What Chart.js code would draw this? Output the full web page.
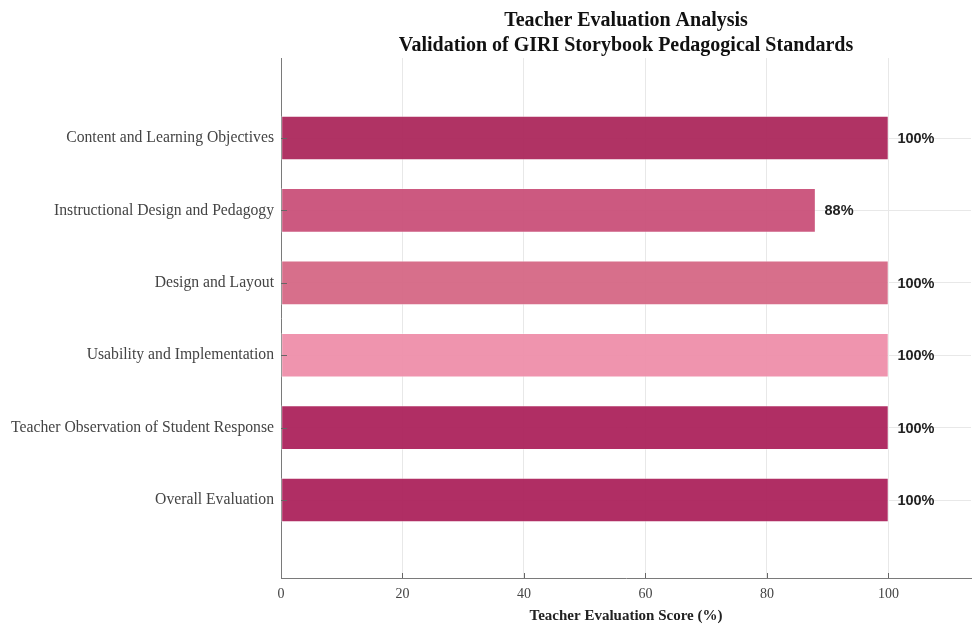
<!DOCTYPE html>
<html>
<head>
<meta charset="utf-8">
<script src="https://cdn.jsdelivr.net/npm/chart.js@4"></script>
<style>
html,body{margin:0;padding:0;background:#fff;}
#wrap{width:972px;height:625px;}
</style>
</head>
<body>
<div id="wrap"><canvas id="c" width="972" height="625"></canvas></div>
<script>
const categories = [
  "Content and Learning Objectives",
  "Instructional Design and Pedagogy",
  "Design and Layout",
  "Usability and Implementation",
  "Teacher Observation of Student Response",
  "Overall Evaluation"
];
const scores = [100, 88, 100, 100, 100, 100];
const barColors = [
  "rgba(170,36,88,0.93)",
  "rgba(200,76,118,0.93)",
  "rgba(212,100,130,0.93)",
  "rgba(238,140,168,0.93)",
  "rgba(170,30,88,0.93)",
  "rgba(170,30,88,0.93)"
];
const xTicks = [0, 20, 40, 60, 80, 100];
const titleLines = ["Teacher Evaluation Analysis", "Validation of GIRI Storybook Pedagogical Standards"];
const xTitle = "Teacher Evaluation Score (%)";

const serif = "'Liberation Serif', 'DejaVu Serif', serif";
const sans = "'Liberation Sans', Arial, sans-serif";

const overlay = {
  id: 'overlay',
  afterDatasetsDraw(chart) {
    const ctx = chart.ctx;
    const xs = chart.scales.x, ys = chart.scales.y;
    const area = chart.chartArea;
    ctx.save();
    ctx.strokeStyle = '#666';
    ctx.lineWidth = 1;
    xTicks.forEach(v => {
      if (v === 0) return;
      const px = Math.round(xs.getPixelForValue(v)) + 0.5;
      ctx.beginPath();
      ctx.moveTo(px, area.bottom);
      ctx.lineTo(px, area.bottom - 5);
      ctx.stroke();
    });
    categories.forEach((c, i) => {
      const py = Math.round(ys.getPixelForValue(i)) + 0.5;
      ctx.beginPath();
      ctx.moveTo(area.left, py);
      ctx.lineTo(area.left + 6, py);
      ctx.stroke();
    });
    ctx.fillStyle = '#222';
    ctx.font = "bold 14.5px " + sans;
    ctx.textAlign = 'left';
    ctx.textBaseline = 'middle';
    scores.forEach((v, i) => {
      const px = xs.getPixelForValue(v) + 9;
      const py = ys.getPixelForValue(i) + 1;
      ctx.fillText(v + '%', px, py);
    });
    ctx.restore();
  }
};

new Chart(document.getElementById('c'), {
  type: 'bar',
  data: {
    datasets: [{
      data: scores.map((v, i) => ({x: v, y: i})),
      backgroundColor: barColors,
      borderColor: 'rgba(255,255,255,0.35)',
      borderWidth: 1,
      borderSkipped: false,
      barThickness: 44
    }]
  },
  options: {
    indexAxis: 'y',
    responsive: false,
    animation: false,
    devicePixelRatio: 1,
    layout: {padding: {left: 0, right: 1, top: 0, bottom: 0}},
    plugins: {
      legend: {display: false},
      tooltip: {enabled: false},
      title: {
        display: true,
        fullSize: false,
        text: titleLines,
        color: '#111',
        font: {family: serif, size: 20, weight: 'bold', lineHeight: 1.25},
        padding: {top: 8, bottom: 0}
      }
    },
    scales: {
      x: {
        type: 'linear',
        min: 0,
        max: 113.6,
        afterBuildTicks: axis => { axis.ticks = xTicks.map(v => ({value: v})); },
        afterFit: scale => { scale.height = 47; },
        grid: {color: '#e8e8e8', drawTicks: false},
        border: {color: '#7a7a7a', width: 1},
        ticks: {
          color: '#444',
          font: {family: serif, size: 14},
          padding: 8
        },
        title: {
          display: true,
          text: xTitle,
          color: '#222',
          font: {family: serif, size: 15, weight: 'bold'},
          padding: {top: 2, bottom: 0}
        }
      },
      y: {
        type: 'linear',
        reverse: true,
        offset: false,
        min: -1.105,
        max: 6.077,
        afterBuildTicks: axis => { axis.ticks = categories.map((c, i) => ({value: i})); },
        afterFit: scale => { scale.width = 281; },
        grid: {color: '#e8e8e8', drawTicks: false, offset: false},
        border: {color: '#7a7a7a', width: 1},
        ticks: {
          color: '#444',
          font: {family: serif, size: 15.7},
          padding: 7,
          callback: v => categories[v]
        }
      }
    }
  },
  plugins: [overlay]
});
</script>
</body>
</html>
